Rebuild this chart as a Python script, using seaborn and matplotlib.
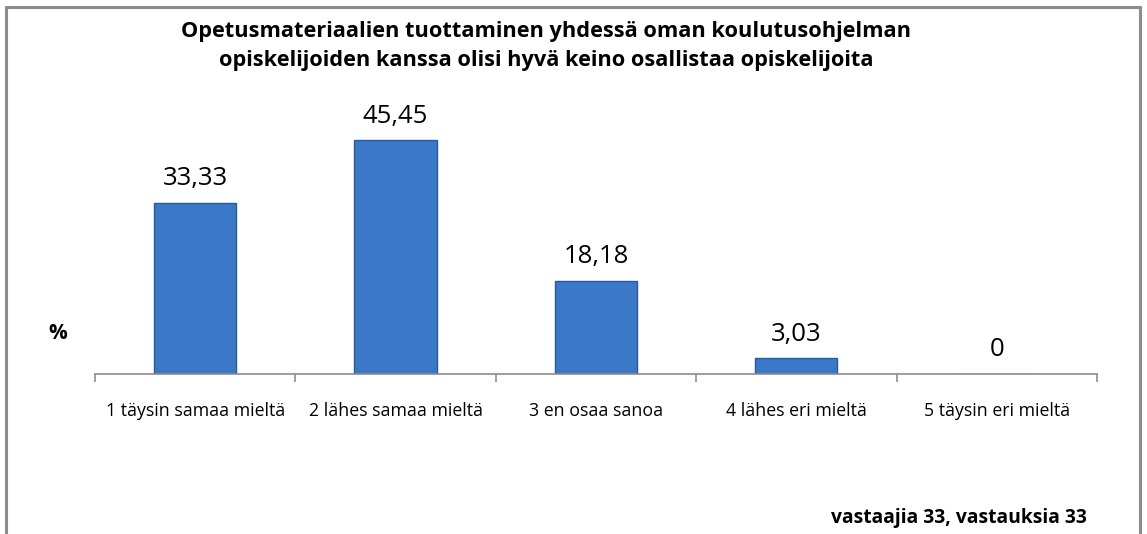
import matplotlib
matplotlib.use("Agg")
import matplotlib.pyplot as plt
import seaborn as sns
import pandas as pd
from matplotlib.lines import Line2D
from matplotlib.ticker import FixedLocator, NullFormatter

categories = ["1 täysin samaa mieltä", "2 lähes samaa mieltä", "3 en osaa sanoa",
              "4 lähes eri mieltä", "5 täysin eri mieltä"]
values = [33.33, 45.45, 18.18, 3.03, 0]
value_labels = ["33,33", "45,45", "18,18", "3,03", "0"]
title = ("Opetusmateriaalien tuottaminen yhdessä oman koulutusohjelman\n"
         "opiskelijoiden kanssa olisi hyvä keino osallistaa opiskelijoita")
footnote = "vastaajia 33, vastauksia 33"

sns.set_theme(style="white")
plt.rcParams["font.family"] = ["Open Sans", "DejaVu Sans"]
plt.rcParams["text.color"] = "black"

df = pd.DataFrame({"cat": categories, "val": values})

fig = plt.figure(figsize=(11.47, 5.34), dpi=100)
ax = fig.add_axes([0.0828, 0.2996, 0.8736, 0.4814])

sns.barplot(data=df, x="cat", y="val", ax=ax, color="#3C78C8", width=0.41,
            edgecolor="#2A5A9A", linewidth=1.0, saturation=1)

ax.set_ylim(0, 50)
ax.set_xlim(-0.5, len(categories) - 0.5)
ax.set_xlabel("")
ax.set_ylabel("")
ax.set_yticks([])
for s in ["top", "right", "left"]:
    ax.spines[s].set_visible(False)
ax.spines["bottom"].set_color("#8C8C8C")
ax.spines["bottom"].set_linewidth(1.2)

ax.tick_params(axis="x", which="major", length=0, pad=20, labelsize=12.8, labelcolor="black")
ax.xaxis.set_minor_locator(FixedLocator([i - 0.5 for i in range(len(categories) + 1)]))
ax.xaxis.set_minor_formatter(NullFormatter())
ax.tick_params(axis="x", which="minor", length=6, width=1.2, color="#8C8C8C", bottom=True)

for i, (v, lab) in enumerate(zip(values, value_labels)):
    ax.annotate(lab, (i, v), xytext=(0, 17.5), textcoords="offset points",
                ha="center", va="center", fontsize=18.5, color="black")

fig.text(0.476, 0.914, title, ha="center", va="center", fontsize=15.7,
         fontweight="bold", linespacing=1.55, color="black")
fig.text(0.050, 0.376, "%", ha="center", va="center", fontsize=15, fontweight="bold",
         color="black")
fig.text(0.948, 0.030, footnote, ha="right", va="center", fontsize=13.9, fontweight="bold",
         color="black")

frame_kw = dict(color="#8C8C8C", linewidth=2.2, transform=fig.transFigure)
fig.add_artist(Line2D([0.0055, 0.0055], [0.0, 0.987], **frame_kw))
fig.add_artist(Line2D([0.0055, 0.9935], [0.987, 0.987], **frame_kw))
fig.add_artist(Line2D([0.9935, 0.9935], [0.0, 0.987], **frame_kw))

fig.savefig("out.png", dpi=100, facecolor="white")
